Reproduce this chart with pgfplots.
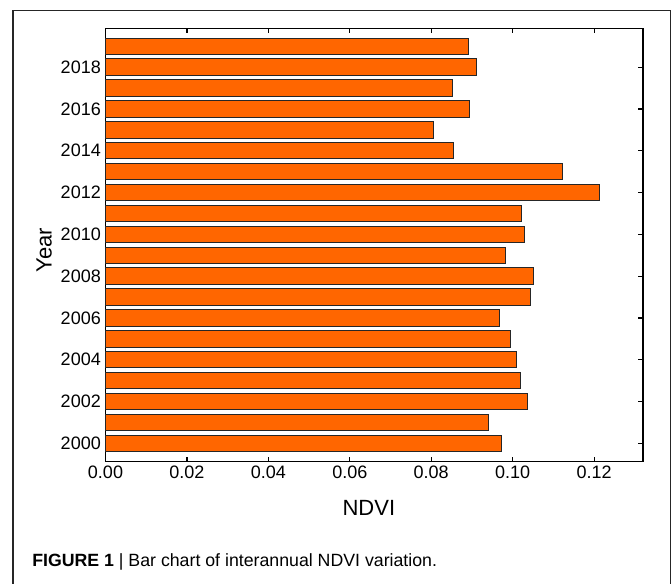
\documentclass[border=0pt]{standalone}
\usepackage{fontspec}
\setmainfont{Liberation Sans}
\usepackage{pgfplots}
\pgfplotsset{compat=1.18}
\definecolor{barorange}{RGB}{255,102,0}
\begin{document}
\begin{tikzpicture}
\useasboundingbox (0pt,0pt) rectangle (504pt,437.25pt);
\draw[line width=0.9pt, black!85] (9.75pt,-2pt) -- (9.75pt,429.2pt) -- (502.9pt,429.2pt) -- (502.9pt,-2pt);
\begin{axis}[
  at={(79.125pt,90.975pt)}, anchor=south west,
  scale only axis, width=403.1pt, height=325.05pt,
  xmin=0, xmax=0.132, ymin=1999.12, ymax=2019.86,
  xbar, bar width=0.785,
  xtick={0,0.02,0.04,0.06,0.08,0.1,0.12},
  ytick={2000,2002,2004,2006,2008,2010,2012,2014,2016,2018},
  xticklabel style={/pgf/number format/.cd, fixed, fixed zerofill, precision=2},
  yticklabel style={/pgf/number format/1000 sep={}},
  /pgf/number format/assume math mode=true,
  tick label style={font=\fontsize{13.5}{16}\selectfont},
  tick align=inside, xtick pos=both, ytick pos=right, yticklabel pos=left,
  major tick length=3.75pt,
  axis line style={line width=0.9pt},
  every tick/.style={line width=0.9pt, black},
  xlabel={NDVI}, ylabel={Year},
  label style={font=\fontsize{16.5}{19}\selectfont},
  xlabel style={at={(axis description cs:0.49,-0.107)}, anchor=center},
  ylabel style={at={(axis description cs:-0.114,0.488)}, anchor=center},
  clip=false,
]
\addplot[fill=barorange, draw=black!85, line width=0.7pt] coordinates {
  (0.0973,2000) (0.0941,2001) (0.1037,2002) (0.1018,2003) (0.1009,2004)
  (0.0995,2005) (0.0968,2006) (0.1044,2007) (0.1051,2008) (0.0982,2009)
  (0.1030,2010) (0.1021,2011) (0.1213,2012) (0.1122,2013) (0.0855,2014)
  (0.0806,2015) (0.0893,2016) (0.0851,2017) (0.0911,2018) (0.0891,2019)
};
\end{axis}
\node[anchor=base west, inner sep=0pt] at (24pt,12.75pt) {\fontsize{13.3}{15}\selectfont\textbf{FIGURE 1} | Bar chart of interannual NDVI variation.};
\end{tikzpicture}
\end{document}
